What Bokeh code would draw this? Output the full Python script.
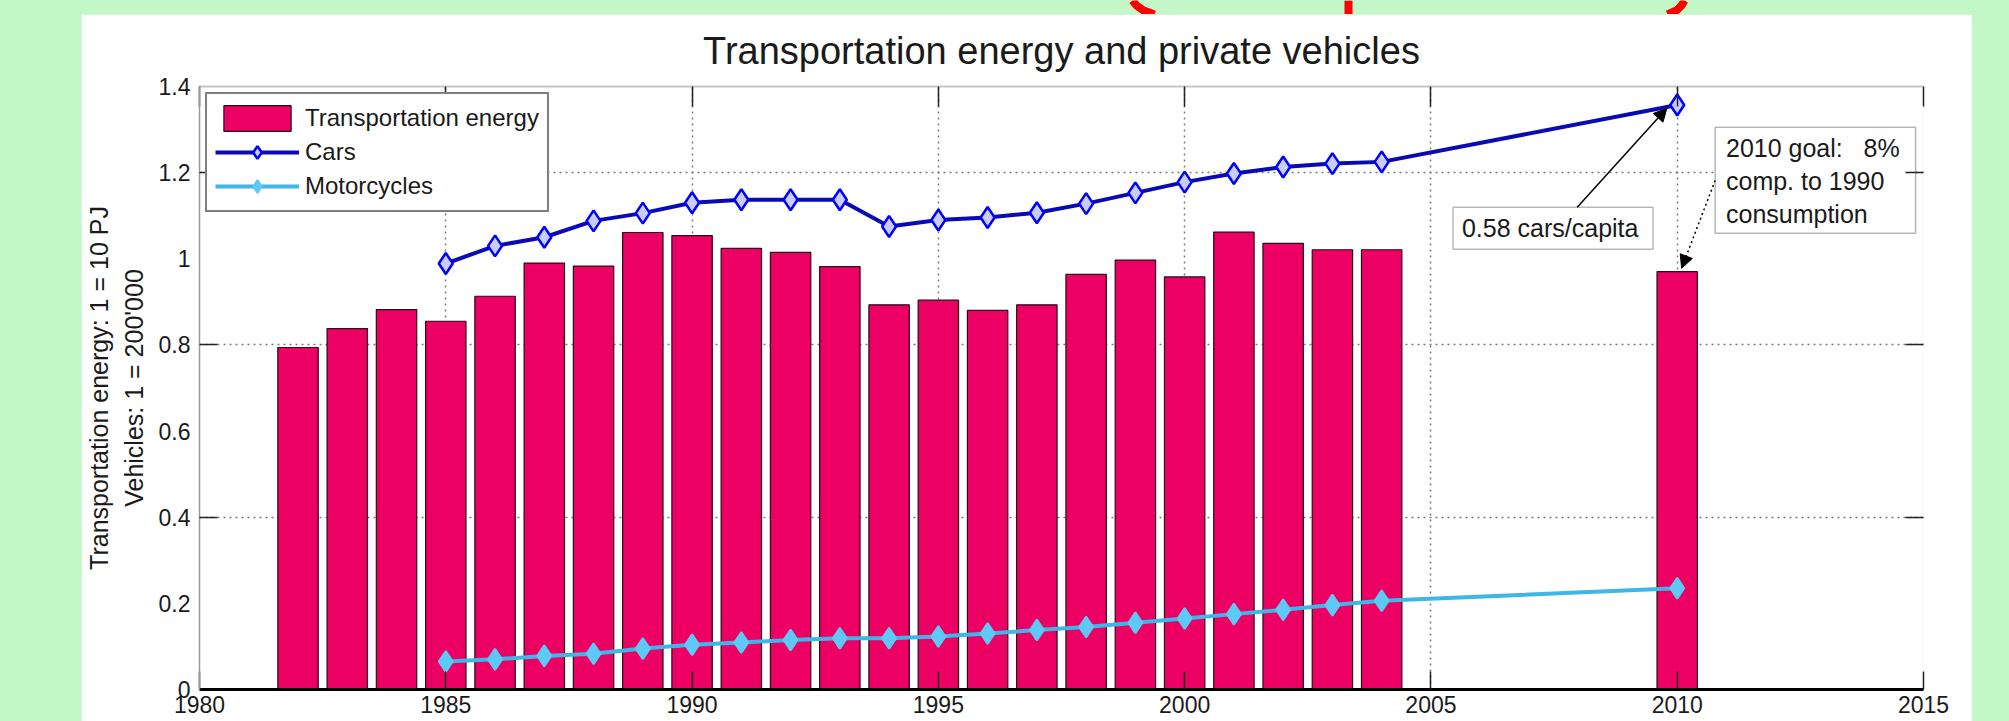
from bokeh.plotting import figure
from bokeh.models import (FixedTicker, LinearAxis, NumeralTickFormatter, Label, BoxAnnotation,
                          Arrow, NormalHead, Spacer, GlobalInlineStyleSheet)
from bokeh.layouts import column, row
from bokeh.embed import file_html
from bokeh.resources import INLINE

# ---------------- data ----------------
BAR_YEARS = [1982, 1983, 1984, 1985, 1986, 1987, 1988, 1989, 1990, 1991, 1992, 1993,
             1994, 1995, 1996, 1997, 1998, 1999, 2000, 2001, 2002, 2003, 2004, 2010]
ENERGY = [0.794, 0.838, 0.882, 0.855, 0.913, 0.990, 0.983, 1.061, 1.054, 1.024, 1.015, 0.982,
          0.893, 0.904, 0.880, 0.893, 0.964, 0.997, 0.958, 1.062, 1.036, 1.021, 1.021, 0.970]

VEH_YEARS = [1985, 1986, 1987, 1988, 1989, 1990, 1991, 1992, 1993, 1994, 1995, 1996,
             1997, 1998, 1999, 2000, 2001, 2002, 2003, 2004, 2010]
CARS = [0.989, 1.030, 1.050, 1.088, 1.106, 1.130, 1.137, 1.137, 1.137, 1.075, 1.090, 1.096,
        1.107, 1.128, 1.153, 1.178, 1.198, 1.213, 1.221, 1.225, 1.357]
MOTORCYCLES = [0.065, 0.070, 0.078, 0.083, 0.095, 0.104, 0.109, 0.115, 0.119, 0.119, 0.123, 0.130,
               0.138, 0.145, 0.155, 0.165, 0.175, 0.185, 0.196, 0.206, 0.235]

X_TICKS = [1980, 1985, 1990, 1995, 2000, 2005, 2010, 2015]
X_GRID = [1985, 1990, 1995, 2000, 2005, 2010]
Y_TICKS = [0, 0.2, 0.4, 0.6, 0.8, 1.0, 1.2, 1.4]
Y_MARKED = [0.4, 0.8, 1.2]

TITLE = "Transportation energy and private vehicles"
Y_LABEL = "Transportation energy: 1 = 10 PJ\nVehicles: 1 = 200'000"
NOTE_CARS = "0.58 cars/capita"
NOTE_GOAL = "2010 goal:\u00a0\u00a0 8%\ncomp. to 1990\nconsumption"

# red hand-drawn marks in the green strip above the chart (page pixels)
RED_LEFT_X, RED_LEFT_Y = [1132, 1136, 1143, 1154], [0, 5, 10, 14]
RED_MID_X, RED_MID_Y = [1348, 1348], [0, 14]
RED_RIGHT_X, RED_RIGHT_Y = [1684, 1681, 1676, 1667], [0, 5, 10, 14]

# ---------------- style ----------------
FONT = "Liberation Sans"
PAGE_GREEN = "#c3f7c7"
BAR_FILL = "#ec0064"
BAR_LINE = "#2a0a14"
CARS_LINE = "#0a0ab4"
CARS_MARK_LINE = "#0000ff"
CARS_MARK_FILL = "#c9ccff"
MOTO_LINE = "#3fb6e8"
MOTO_MARK = "#5fc9f5"
TEXT = "#1a1a1a"

# ---------------- top green strip with red marks ----------------
strip = figure(width=2009, height=14, x_range=(0, 2009), y_range=(14, 0),
               x_axis_type=None, y_axis_type=None, output_backend="svg", toolbar_location=None,
               min_border=0, border_fill_color=PAGE_GREEN, background_fill_color=PAGE_GREEN,
               outline_line_color=None)
strip.title.visible = False
for xs, ys in ((RED_LEFT_X, RED_LEFT_Y), (RED_MID_X, RED_MID_Y), (RED_RIGHT_X, RED_RIGHT_Y)):
    strip.line(xs, ys, line_color="#ff0000", line_width=8)

# ---------------- main chart ----------------
p = figure(width=1891, height=707, x_range=(1980, 2015), y_range=(0, 1.4),
           output_backend="svg", toolbar_location=None,
           min_border_left=116, min_border_right=49, min_border_top=72, min_border_bottom=32,
           background_fill_color="white", border_fill_color="white", outline_line_color=None)

p.title.text = TITLE
p.title.align = "center"
p.title.vertical_align = "top"
p.title.text_font = FONT
p.title.text_font_size = "38px"
p.title.text_font_style = "normal"
p.title.text_color = TEXT
p.title.standoff = 25

# bottom axis
xa = p.xaxis[0]
xa.ticker = FixedTicker(ticks=X_TICKS)
xa.axis_line_color = "black"
xa.axis_line_width = 3
xa.major_tick_in = 18
xa.major_tick_out = 0
xa.minor_tick_in = 0
xa.minor_tick_out = 0
xa.major_tick_line_color = "#222222"
xa.major_tick_line_width = 1.5
xa.major_label_standoff = 6
xa.major_label_text_font = FONT
xa.major_label_text_font_size = "23px"
xa.major_label_text_color = TEXT

# left axis
ya = p.yaxis[0]
ya.ticker = FixedTicker(ticks=Y_TICKS, minor_ticks=Y_MARKED)
ya.formatter = NumeralTickFormatter(format="0.[0]")
ya.axis_line_color = "#9a9a9a"
ya.axis_line_width = 1.5
ya.major_tick_in = 0
ya.major_tick_out = 0
ya.minor_tick_in = 18
ya.minor_tick_out = 0
ya.minor_tick_line_color = "#222222"
ya.minor_tick_line_width = 1.5
ya.major_label_standoff = 9
ya.major_label_text_font = FONT
ya.major_label_text_font_size = "23px"
ya.major_label_text_color = TEXT
ya.axis_label = Y_LABEL
ya.axis_label_text_font = FONT
ya.axis_label_text_font_size = "25px"
ya.axis_label_text_font_style = "normal"
ya.axis_label_text_color = TEXT
ya.axis_label_text_line_height = 1.25
ya.axis_label_standoff = 8

# top axis: tick marks only (minor ticks, no labels)
top_axis = LinearAxis(ticker=FixedTicker(ticks=[], minor_ticks=X_TICKS),
                      axis_line_color="#c8c8c8", axis_line_width=2,
                      major_tick_in=0, major_tick_out=0, minor_tick_in=20, minor_tick_out=0,
                      minor_tick_line_color="#222222", minor_tick_line_width=1.5,
                      major_label_standoff=0)
p.add_layout(top_axis, "above")

# right axis: tick marks only
right_axis = LinearAxis(ticker=FixedTicker(ticks=[], minor_ticks=Y_MARKED), axis_line_color=None,
                        major_tick_in=0, major_tick_out=0, minor_tick_in=18, minor_tick_out=0,
                        minor_tick_line_color="#222222", minor_tick_line_width=1.5,
                        major_label_standoff=0)
p.add_layout(right_axis, "right")

# grids
p.xgrid.ticker = FixedTicker(ticks=X_GRID)
p.ygrid.ticker = FixedTicker(ticks=Y_MARKED)
for g in (p.xgrid[0], p.ygrid[0]):
    g.grid_line_color = "#7a7a7a"
    g.grid_line_dash = "2 4"
    g.grid_line_width = 1.5

# data
p.vbar(x=BAR_YEARS, top=ENERGY, bottom=0, width=0.82, fill_color=BAR_FILL, line_color=BAR_LINE,
       line_width=1.2, legend_label="Transportation energy")
p.line(VEH_YEARS, CARS, line_color=CARS_LINE, line_width=4, legend_label="Cars")
p.scatter(VEH_YEARS, CARS, marker="diamond", size=21, line_color=CARS_MARK_LINE, line_width=2.5,
          fill_color=CARS_MARK_FILL, legend_label="Cars")
p.line(VEH_YEARS, MOTORCYCLES, line_color=MOTO_LINE, line_width=4, legend_label="Motorcycles")
p.scatter(VEH_YEARS, MOTORCYCLES, marker="diamond", size=21, line_color=MOTO_MARK, line_width=2,
          fill_color=MOTO_MARK, legend_label="Motorcycles")

# legend
lg = p.legend[0]
lg.location = "top_left"
lg.margin = 6
lg.padding = 8
lg.spacing = 2
lg.glyph_width = 84
lg.glyph_height = 32
lg.label_standoff = 6
lg.label_text_font = FONT
lg.label_text_font_size = "24px"
lg.label_text_color = TEXT
lg.border_line_color = "black"
lg.border_line_width = 2
lg.background_fill_color = "white"
lg.background_fill_alpha = 1.0

# annotation boxes, texts and arrows
box_cars = BoxAnnotation(left=2005.45, right=2009.51, bottom=1.022, top=1.1196, fill_color="white",
                         fill_alpha=1.0, line_color="#111111", line_width=1.5, level="glyph")
box_goal = BoxAnnotation(left=2010.77, right=2014.84, bottom=1.0592, top=1.3055, fill_color="white",
                         fill_alpha=1.0, line_color="#111111", line_width=1.5, level="glyph")
p.add_layout(box_cars)
p.add_layout(box_goal)
p.add_layout(Label(x=2005.63, y=1.0708, text=NOTE_CARS, text_align="left", text_baseline="middle",
                   text_font=FONT, text_font_size="25px", text_color=TEXT))
p.add_layout(Label(x=2010.99, y=1.29, text=NOTE_GOAL, text_align="left", text_baseline="top",
                   text_font=FONT, text_font_size="25px", text_color=TEXT, text_line_height=1.18))
p.add_layout(Arrow(end=NormalHead(size=13, fill_color="black", line_color="black"),
                   x_start=2007.97, y_start=1.1196, x_end=2009.79, y_end=1.3496,
                   line_color="black", line_width=1.5))
p.add_layout(Arrow(end=NormalHead(size=13, fill_color="black", line_color="black"),
                   x_start=2010.77, y_start=1.182, x_end=2010.09, y_end=0.978,
                   line_color="black", line_width=1.5, line_dash="2 3"))

layout = column(strip, row(Spacer(width=81), p),
                stylesheets=[GlobalInlineStyleSheet(css="html, body { background-color: %s; }" % PAGE_GREEN)])

open("out.html", "w").write(file_html(layout, INLINE))
